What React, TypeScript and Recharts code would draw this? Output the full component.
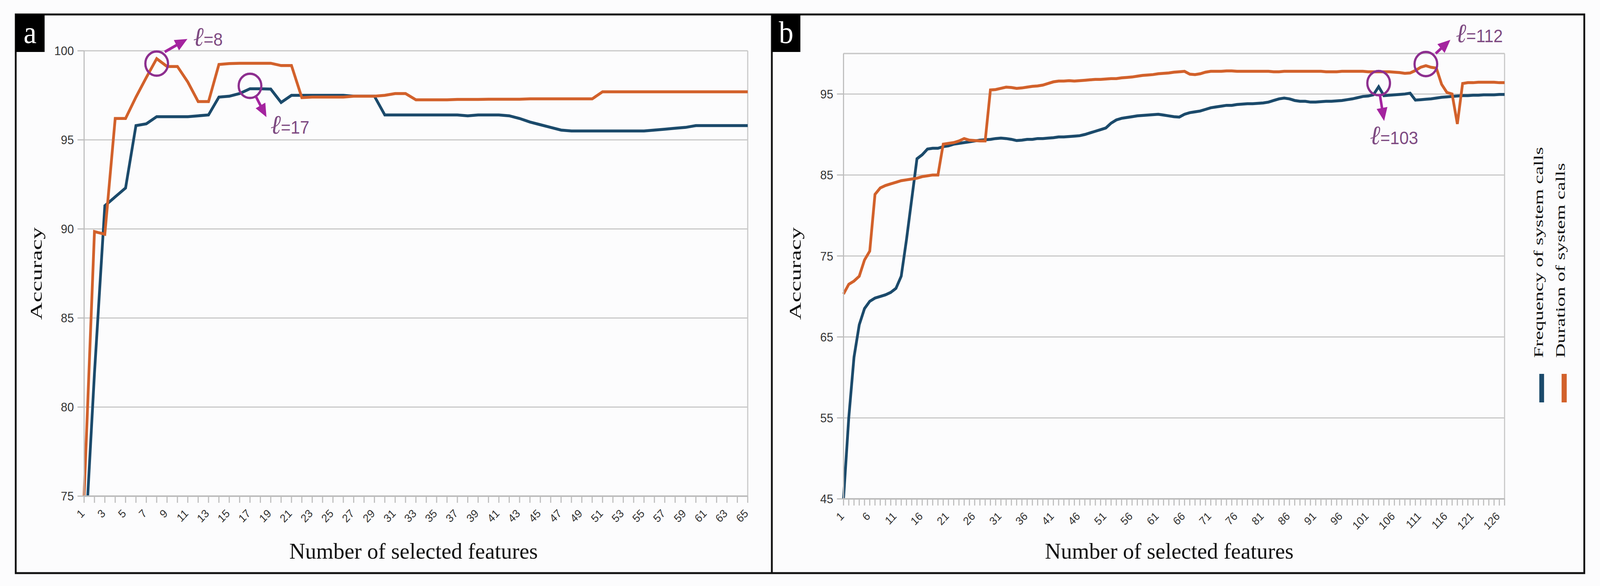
import React from 'react';
import { LineChart, Line, XAxis, YAxis, CartesianGrid, ReferenceLine, ReferenceDot } from 'recharts';

// ---------- Panel a data (number of selected features 1..65) ----------
const freqA = [
  71.3, 81.9, 91.3, 91.8, 92.3, 95.8, 95.9, 96.3, 96.3, 96.3,
  96.3, 96.35, 96.4, 97.4, 97.45, 97.6, 97.87, 97.87, 97.85, 97.1,
  97.5, 97.5, 97.5, 97.5, 97.5, 97.5, 97.45, 97.45, 97.45, 96.4,
  96.4, 96.4, 96.4, 96.4, 96.4, 96.4, 96.4, 96.35, 96.4, 96.4,
  96.4, 96.35, 96.2, 96.0, 95.85, 95.7, 95.55, 95.5, 95.5, 95.5,
  95.5, 95.5, 95.5, 95.5, 95.5, 95.55, 95.6, 95.65, 95.7, 95.8,
  95.8, 95.8, 95.8, 95.8, 95.8,
];
const durA = [
  75.0, 89.85, 89.7, 96.2, 96.2, 97.4, 98.5, 99.56, 99.12, 99.12,
  98.25, 97.15, 97.15, 99.23, 99.28, 99.3, 99.3, 99.3, 99.3, 99.17,
  99.17, 97.37, 97.4, 97.4, 97.4, 97.4, 97.45, 97.45, 97.45, 97.5,
  97.6, 97.6, 97.25, 97.25, 97.25, 97.25, 97.27, 97.27, 97.27, 97.28,
  97.28, 97.28, 97.28, 97.3, 97.3, 97.3, 97.3, 97.3, 97.3, 97.3,
  97.7, 97.7, 97.7, 97.7, 97.7, 97.7, 97.7, 97.7, 97.7, 97.7,
  97.7, 97.7, 97.7, 97.7, 97.7,
];

// ---------- Panel b data (number of selected features 1..127) ----------
const freqB = [
  45.0, 55.0, 62.5, 66.5, 68.5, 69.4, 69.8, 70.0, 70.2, 70.5,
  71.0, 72.5, 77.0, 82.0, 87.0, 87.5, 88.2, 88.3, 88.3, 88.5,
  88.6, 88.8, 88.9, 89.0, 89.1, 89.2, 89.3, 89.35, 89.4, 89.5,
  89.55, 89.5, 89.4, 89.25, 89.3, 89.4, 89.4, 89.5, 89.5, 89.55,
  89.6, 89.7, 89.7, 89.75, 89.8, 89.85, 90.0, 90.2, 90.4, 90.6,
  90.8, 91.4, 91.8, 92.0, 92.1, 92.2, 92.3, 92.35, 92.4, 92.45,
  92.5, 92.4, 92.3, 92.2, 92.15, 92.5, 92.7, 92.8, 92.9, 93.1,
  93.3, 93.4, 93.5, 93.6, 93.6, 93.7, 93.75, 93.8, 93.8, 93.85,
  93.9, 94.0, 94.2, 94.4, 94.5, 94.4, 94.2, 94.1, 94.1, 94.0,
  94.0, 94.05, 94.1, 94.1, 94.15, 94.2, 94.3, 94.4, 94.55, 94.7,
  94.75, 94.9, 95.9, 94.8, 94.85, 94.9, 94.95, 95.0, 95.1, 94.25,
  94.3, 94.35, 94.4, 94.5, 94.6, 94.65, 94.7, 94.75, 94.8, 94.8,
  94.85, 94.85, 94.9, 94.9, 94.9, 94.95, 94.95,
];
const durB = [
  70.3, 71.5, 71.9, 72.5, 74.5, 75.6, 82.6, 83.4, 83.7, 83.9,
  84.1, 84.3, 84.4, 84.5, 84.6, 84.8, 84.9, 85.0, 85.0, 88.8,
  88.9, 89.0, 89.2, 89.5, 89.3, 89.25, 89.2, 89.2, 95.5, 95.55,
  95.7, 95.85, 95.8, 95.7, 95.75, 95.85, 95.95, 96.0, 96.1, 96.3,
  96.5, 96.6, 96.6, 96.65, 96.6, 96.65, 96.7, 96.75, 96.8, 96.8,
  96.85, 96.9, 96.9, 97.0, 97.05, 97.1, 97.2, 97.3, 97.35, 97.4,
  97.5, 97.55, 97.6, 97.7, 97.75, 97.8, 97.45, 97.4, 97.5, 97.7,
  97.8, 97.8, 97.8, 97.85, 97.85, 97.8, 97.8, 97.8, 97.8, 97.8,
  97.8, 97.8, 97.75, 97.75, 97.8, 97.8, 97.8, 97.8, 97.8, 97.8,
  97.8, 97.8, 97.75, 97.75, 97.75, 97.8, 97.8, 97.8, 97.8, 97.8,
  97.75, 97.75, 97.75, 97.75, 97.75, 97.7, 97.65, 97.55, 97.6, 97.9,
  98.3, 98.5, 98.3, 98.2, 96.2, 95.2, 95.0, 91.3, 96.3, 96.4,
  96.4, 96.45, 96.45, 96.45, 96.45, 96.4, 96.4,
];

const yTicksA = [75, 80, 85, 90, 95, 100];
const yTicksB = [45, 55, 65, 75, 85, 95];
const seriesNames = ['Frequency of system calls', 'Duration of system calls'];
const xTitle = 'Number of selected features';
const yTitle = 'Accuracy';
const panelLetters = ['a', 'b'];

// annotation targets: category, anchor value, label
const annotA = [
  { n: 8, v: 99.28, label: '8' },
  { n: 17, v: 98.03, label: '17' },
];
const annotB = [
  { n: 103, v: 96.34, label: '103' },
  { n: 112, v: 98.7, label: '112' },
];

const dataA = freqA.map((v, i) => ({ n: i + 1, freq: v, dur: durA[i] }));
const dataB = freqB.map((v, i) => ({ n: i + 1, freq: v, dur: durB[i] }));

const BLUE = '#1b4a6b';
const ORANGE = '#d2612b';
const GRID = '#c8c8c8';
const AXIS = '#bdbdbd';
const CIRCLE = '#8d2f8f';
const ARROW = '#a4239f';
const ANNOT_TXT = '#7e4a82';
const SANS = "'Liberation Sans', Arial, sans-serif";
const SERIF = "'Liberation Serif', 'Times New Roman', serif";

// the photograph is limited to 4096 px in width: squeeze the 4376-wide design horizontally
const DESIGN_W = 4376;
const SHOT_W = 4096;
const SX = SHOT_W / DESIGN_W;

const makeTick = (every: number) => (props: any) => {
  const { x, y, payload, index } = props;
  if (index % every !== 0) return <g />;
  return (
    <g transform={`translate(${x - 4},${y + 20})`}>
      <text x={0} y={0} dy="0.35em" textAnchor="end" transform="rotate(-45)"
        fontFamily={SANS} fontSize={29} fill="#333">{payload.value}</text>
    </g>
  );
};

function arrow(x1: number, y1: number, x2: number, y2: number, head = 34, hw = 15) {
  const dx = x2 - x1, dy = y2 - y1;
  const L = Math.hypot(dx, dy);
  const ux = dx / L, uy = dy / L;
  const bx = x2 - ux * head, by = y2 - uy * head;
  const px = -uy, py = ux;
  return (
    <g>
      <line x1={x1} y1={y1} x2={bx + ux * 4} y2={by + uy * 4} stroke={ARROW} strokeWidth={7} />
      <polygon points={`${x2},${y2} ${bx + px * hw},${by + py * hw} ${bx - px * hw},${by - py * hw}`} fill={ARROW} />
    </g>
  );
}

// geometry of each callout relative to the circle centre
const calloutGeom: Record<string, number[]> = {
  '8': [22, -30, 84, -63, 100, -46],
  '17': [16, 27, 45, 80, 56, 122],
  '103': [3, 28, 15, 97, -24, 156],
  '112': [27, -27, 67, -62, 82, -56],
};

const makeCallout = (label: string) => (props: any) => {
  const { cx, cy } = props;
  if (cx == null || cy == null) return <g />;
  const [sx, sy, tx, ty, lx, ly] = calloutGeom[label];
  return (
    <g>
      <circle cx={cx} cy={cy} r={31} fill="none" stroke={CIRCLE} strokeWidth={6} />
      {arrow(cx + sx, cy + sy, cx + tx, cy + ty)}
      <text x={cx + lx} y={cy + ly} fill={ANNOT_TXT} fontFamily={SANS}>
        <tspan fontFamily={SERIF} fontStyle="italic" fontSize={68}>ℓ</tspan>
        <tspan fontSize={46}>={label}</tspan>
      </text>
    </g>
  );
};

function Panel(props: {
  data: any[]; width: number; plotRight: number; top: number; bottom: number; yAxisW: number;
  domain: number[]; ticks: number[]; every: number; annots: any[]; topLine?: number;
}) {
  const { data, width, plotRight, top, bottom, yAxisW, domain, ticks, every, annots, topLine } = props;
  const last = data.length;
  return (
    <LineChart width={width} height={1500} data={data}
      margin={{ top, right: width - plotRight, bottom: 0, left: 0 }}>
      <CartesianGrid vertical={false} stroke={GRID} strokeWidth={3} />
      <XAxis dataKey="n" type="category" interval={0} height={1500 - bottom}
        tick={makeTick(every)} tickSize={17} tickLine={{ stroke: AXIS, strokeWidth: 3 }}
        axisLine={{ stroke: AXIS, strokeWidth: 4 }} />
      <YAxis type="number" domain={domain} ticks={ticks} allowDataOverflow width={yAxisW}
        tickSize={18} tickMargin={10} tickLine={{ stroke: AXIS, strokeWidth: 3 }}
        axisLine={{ stroke: AXIS, strokeWidth: 3 }}
        tick={{ fontFamily: SANS, fontSize: 32, fill: '#333' }} />
      {topLine != null && <ReferenceLine y={topLine} stroke={GRID} strokeWidth={3} />}
      <ReferenceLine x={last} stroke={GRID} strokeWidth={3} />
      <Line type="linear" dataKey="freq" name={seriesNames[0]} stroke={BLUE} strokeWidth={7.5}
        dot={false} activeDot={false} isAnimationActive={false} />
      <Line type="linear" dataKey="dur" name={seriesNames[1]} stroke={ORANGE} strokeWidth={7.5}
        dot={false} activeDot={false} isAnimationActive={false} />
      {annots.map((a) => (
        <ReferenceDot key={a.label} x={a.n} y={a.v} r={31} shape={makeCallout(a.label)} ifOverflow="visible" />
      ))}
    </LineChart>
  );
}

export default function App() {
  return (
    <div style={{ position: 'absolute', left: 0, top: 0, width: SHOT_W, height: 1500, background: '#fcfcfd', overflow: 'hidden' }}>
      <div style={{ position: 'absolute', left: 0, top: 0, width: DESIGN_W, height: 1500,
        transform: `scale(${SX}, 1)`, transformOrigin: '0 0' }}>
        <div style={{ position: 'absolute', left: 0, top: 0 }}>
          <Panel data={dataA} width={2111} plotRight={2045} top={130} bottom={1270} yAxisW={230}
            domain={[75, 100]} ticks={yTicksA} every={2} annots={annotA} />
        </div>
        <div style={{ position: 'absolute', left: 2111, top: 0 }}>
          <Panel data={dataB} width={2225} plotRight={2004} top={137} bottom={1277} yAxisW={196}
            domain={[45, 100]} ticks={yTicksB} every={5} annots={annotB} topLine={100} />
        </div>
        <svg width={DESIGN_W} height={1500} style={{ position: 'absolute', left: 0, top: 0, pointerEvents: 'none' }}>
          <rect x={43} y={37} width={4290} height={1430} fill="none" stroke="#111" strokeWidth={5} />
          <line x1={2111} y1={37} x2={2111} y2={1467} stroke="#111" strokeWidth={5} />
          <rect x={43} y={37} width={79} height={96} fill="#000" />
          <rect x={2111} y={37} width={78} height={96} fill="#000" />
          <text x={82} y={110} textAnchor="middle" fill="#fff" fontFamily={SERIF} fontSize={80}>{panelLetters[0]}</text>
          <text x={2150} y={110} textAnchor="middle" fill="#fff" fontFamily={SERIF} fontSize={80}>{panelLetters[1]}</text>

          <text transform="translate(114,700) rotate(-90)" textAnchor="middle"
            fontFamily={SERIF} fontSize={44} fill="#111" textLength={237} lengthAdjust="spacingAndGlyphs">{yTitle}</text>
          <text transform="translate(2190,700) rotate(-90)" textAnchor="middle"
            fontFamily={SERIF} fontSize={44} fill="#111" textLength={237} lengthAdjust="spacingAndGlyphs">{yTitle}</text>

          <text x={1131} y={1430} textAnchor="middle" fontFamily={SERIF} fontSize={58} fill="#111"
            textLength={680} lengthAdjust="spacingAndGlyphs">{xTitle}</text>
          <text x={3198} y={1430} textAnchor="middle" fontFamily={SERIF} fontSize={58} fill="#111"
            textLength={680} lengthAdjust="spacingAndGlyphs">{xTitle}</text>

          <rect x={4210} y={957} width={13} height={73} fill={BLUE} />
          <rect x={4271} y={957} width={14} height={73} fill={ORANGE} />
          <text transform="translate(4220,916) rotate(-90)" fontFamily={SERIF} fontSize={36}
            fill="#111" textLength={540} lengthAdjust="spacingAndGlyphs">{seriesNames[0]}</text>
          <text transform="translate(4280,916) rotate(-90)" fontFamily={SERIF} fontSize={36}
            fill="#111" textLength={499} lengthAdjust="spacingAndGlyphs">{seriesNames[1]}</text>
        </svg>
      </div>
    </div>
  );
}
